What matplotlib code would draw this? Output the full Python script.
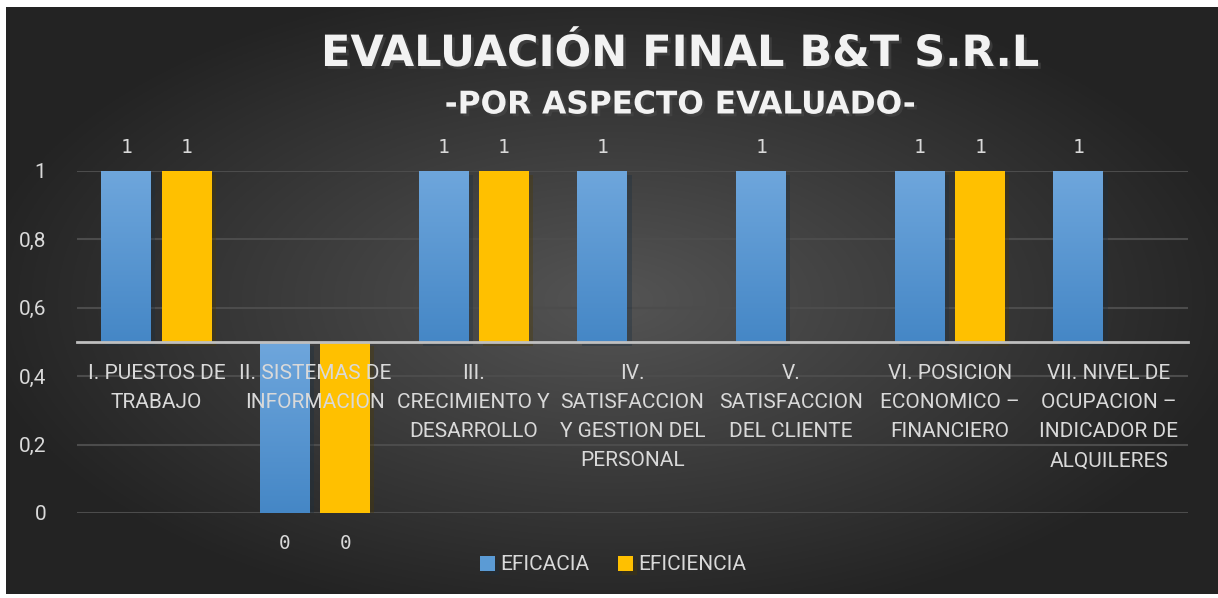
import numpy as np
import matplotlib
matplotlib.use("Agg")
from matplotlib import pyplot as plt
from matplotlib import patheffects as pe
from matplotlib import font_manager
from matplotlib.colors import LinearSegmentedColormap

# datos
categorias = ["I. PUESTOS DE\nTRABAJO", "II. SISTEMAS DE\nINFORMACION",
              "III.\nCRECIMIENTO Y\nDESARROLLO", "IV.\nSATISFACCION\nY GESTION DEL\nPERSONAL",
              "V.\nSATISFACCION\nDEL CLIENTE", "VI. POSICION\nECONOMICO –\nFINANCIERO",
              "VII. NIVEL DE\nOCUPACION –\nINDICADOR DE\nALQUILERES"]
eficacia = [1, 0, 1, 1, 1, 1, 1]
eficiencia = [1, 0, 1, None, None, 1, None]
yticks = [0, 0.2, 0.4, 0.6, 0.8, 1]
ytick_labels = ["0", "0,2", "0,4", "0,6", "0,8", "1"]
base = 0.5

names = {f.name for f in font_manager.fontManager.ttflist}
if "Liberation Sans Narrow" in names:
    fuente, tam = "Liberation Sans Narrow", 17
else:
    fuente, tam = "Roboto", 15
plt.rcParams["font.family"] = [fuente, "DejaVu Sans"]

fig = plt.figure(figsize=(12.18, 5.98), dpi=100)

# fondo con degradado radial
bg = fig.add_axes([6 / 1218, 4 / 598, 1212 / 1218, 587 / 598])
yy, xx = np.mgrid[-1:1:300j, -1:1:600j]
r = np.sqrt((xx * 0.95) ** 2 + (yy * 0.9) ** 2)
g = np.clip(0.33 - 0.19 * r, 0.14, 0.33)
bg.imshow(np.dstack([g, g, g]), aspect="auto", extent=[0, 1, 0, 1])
bg.set_axis_off()

ax = fig.add_axes([77 / 1218, 85 / 598, 1111 / 1218, 342 / 598])
ax.set_facecolor("none")
x = np.arange(len(categorias))
w = 0.315
off = 0.19

# lineas de cuadricula detras de las barras
ax.hlines(yticks, -0.5, len(categorias) - 0.5, color="#4c4c4c", linewidth=1.5, zorder=0.5)

y1 = [v - base for v in eficacia]
y2 = [np.nan if v is None else v - base for v in eficiencia]
b1 = ax.bar(x - off, y1, w, bottom=base, color="#5B9BD5", label="EFICACIA", zorder=1.8)
b2 = ax.bar(x + off, y2, w, bottom=base, color="#FFC000", label="EFICIENCIA", zorder=1.8)

# degradado en barras azules
grad = np.linspace(0, 1, 100).reshape(-1, 1)
cm = LinearSegmentedColormap.from_list("az", ["#4587C6", "#6EA6DC"])
for p in b1:
    x0, y0 = p.get_x(), p.get_y()
    x1_, yt = x0 + p.get_width(), y0 + p.get_height()
    lo, hi = min(y0, yt), max(y0, yt)
    ax.imshow(grad, cmap=cm, aspect="auto", extent=[x0, x1_, lo, hi],
              origin="lower", zorder=2)
for p in list(b1) + list(b2):
    p.set_path_effects([pe.SimplePatchShadow(offset=(3, -3), alpha=0.35), pe.Normal()])

# etiquetas de valores
for bars, vals in ((b1, eficacia), (b2, eficiencia)):
    for p, v in zip(bars, vals):
        if v is None:
            continue
        cx = p.get_x() + p.get_width() / 2
        arriba = v >= base
        ax.annotate(str(v), (cx, v), xytext=(0, 10 if arriba else -15),
                    textcoords="offset points", ha="center",
                    va="bottom" if arriba else "top", color="#d9d9d9", fontsize=14,
                    family="DejaVu Sans Mono", annotation_clip=False)

ax.set_xlim(-0.5, len(categorias) - 0.5)
ax.set_ylim(0, 1)
ax.set_yticks(yticks, ytick_labels)
ax.set_xticks(x, categorias)
ax.set_axisbelow(False)
ax.spines["bottom"].set_position(("data", base))
ax.spines["bottom"].set_color("#bfbfbf")
ax.spines["bottom"].set_linewidth(2)
ax.spines["bottom"].set_zorder(4)
for s in ("top", "right", "left"):
    ax.spines[s].set_visible(False)
ax.tick_params(axis="x", length=0, pad=16, labelsize=tam, labelcolor="#d9d9d9")
ax.tick_params(axis="y", length=0, pad=22, labelsize=15, labelcolor="#d9d9d9")
for t in ax.get_xticklabels():
    t.set_linespacing(1.67)

# titulo
sombra = [pe.SimplePatchShadow(offset=(2, -2), alpha=0.6), pe.Normal()]
fig.text(680 / 1218, 1 - 54 / 598, "EVALUACIÓN FINAL B&T S.R.L", ha="center", va="center",
         fontsize=31, fontweight="bold", color="#f2f2f2", family="DejaVu Sans",
         path_effects=sombra)
fig.text(680 / 1218, 1 - 105 / 598, "-POR ASPECTO EVALUADO-", ha="center", va="center",
         fontsize=22.5, fontweight="bold", color="#f2f2f2", family="DejaVu Sans",
         path_effects=sombra)

leg = fig.legend(handles=[b1, b2], loc="center", bbox_to_anchor=(613 / 1218, 1 - 565 / 598),
                 ncol=2, frameon=False, fontsize=tam, handlelength=0.7, handleheight=0.7,
                 handletextpad=0.25, columnspacing=1.4, labelcolor="#d9d9d9")

fig.savefig("out.png", dpi=100, facecolor="white")
